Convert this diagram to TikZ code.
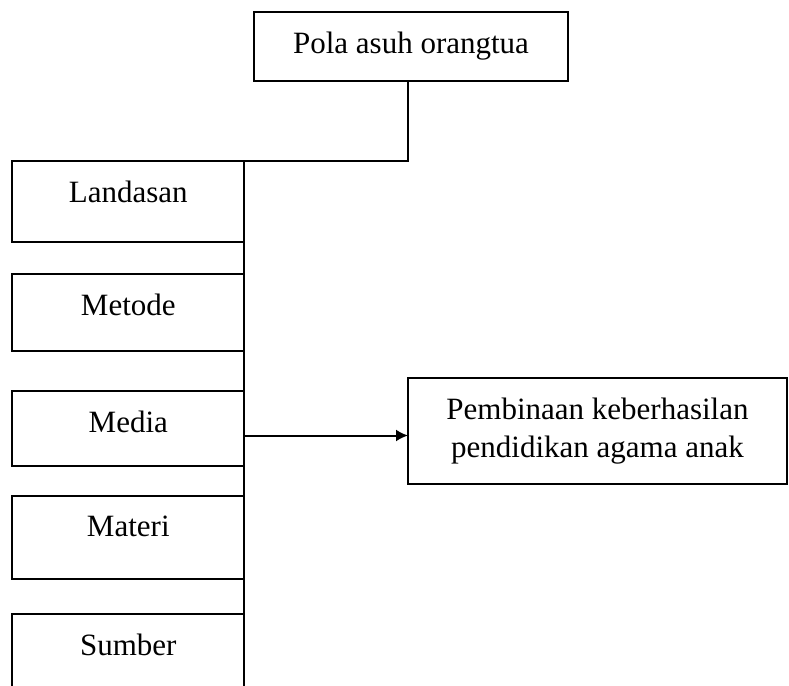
\documentclass[tikz,border=0pt]{standalone}
\usepackage{fontspec}
\setmainfont{Liberation Serif}
\usetikzlibrary{arrows.meta}
\begin{document}
\begin{tikzpicture}[x=1pt,y=-1pt,line width=2pt,
  txt/.style={font=\fontsize{31}{38}\selectfont},
  frame/.style={draw,line width=2pt,inner sep=0pt,outer sep=0pt,anchor=north west},
  sidebox/.style={frame,minimum width=232pt},
  boxtext/.style={txt,anchor=center,yshift=-31pt},
  conn/.style={draw,line width=2pt}]
\useasboundingbox (0,0) rectangle (789,685);
\clip (0,0) rectangle (789,685);
% top box
\node[frame,txt,minimum width=314pt,minimum height=69pt] (top) at (254,12) {Pola asuh orangtua};
% left boxes
\node[sidebox,minimum height=81pt,label={[boxtext]north:Landasan}] (lan) at (12.3,160.7) {};
\node[sidebox,minimum height=77pt,label={[boxtext]north:Metode}] (met) at (12.3,274.3) {};
\node[sidebox,minimum height=75.2pt,label={[boxtext]north:Media}] (med) at (12.3,390.5) {};
\node[sidebox,minimum height=83.6pt,label={[boxtext]north:Materi}] (mat) at (12.3,495.7) {};
\node[sidebox,minimum height=95pt,label={[boxtext]north:Sumber}] (sum) at (12.3,614.3) {};
% result box
\node[frame,txt,align=center,minimum width=379pt,minimum height=106pt] (res) at (408,378)
  {Pembinaan keberhasilan\\pendidikan agama anak};
% connectors
\coordinate (j) at (408,160.7);
\draw[conn] (top.south -| j) -- (j) -- (lan.north east);
\draw[conn] (lan.south east) -- (met.north east);
\draw[conn] (met.south east) -- (med.north east);
\draw[conn] (med.south east) -- (mat.north east);
\draw[conn] (mat.south east) -- (sum.north east);
\coordinate (a) at (244.3,435.5);
\draw[conn,-{Latex[length=12pt,width=12pt]}] (a) -- (a -| res.west);
\end{tikzpicture}
\end{document}
